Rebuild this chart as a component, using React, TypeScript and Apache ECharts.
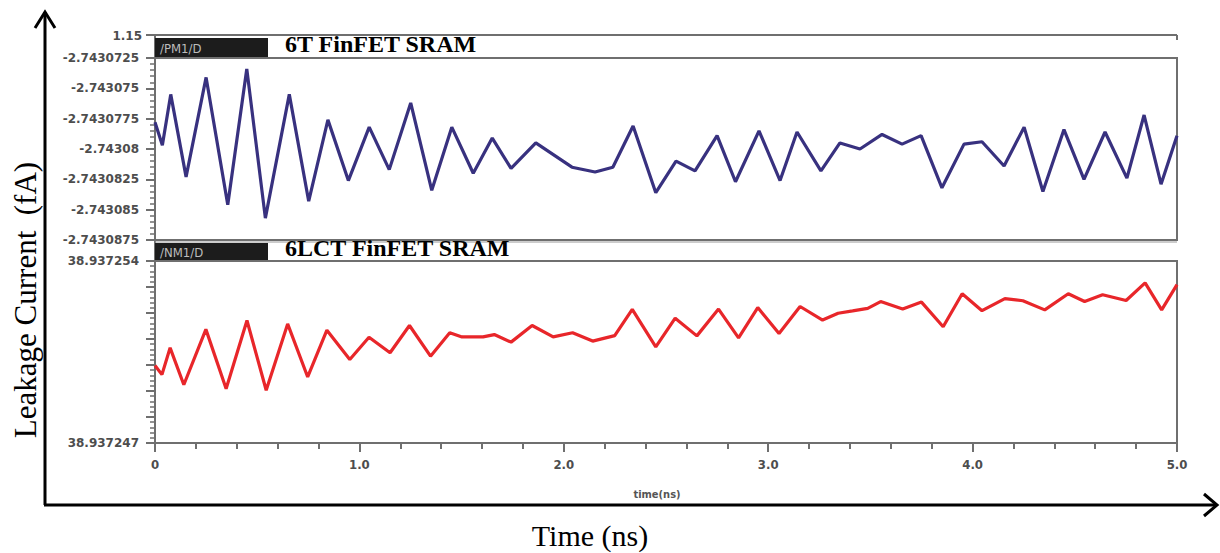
import React, { useEffect, useRef } from "react";
import * as echarts from "echarts";

// 6T FinFET SRAM (/PM1/D) — time (ns) and leakage current (fA)
const timeTop = [
  0, 0.036, 0.077, 0.152, 0.25, 0.356, 0.449, 0.54, 0.657, 0.752, 0.846, 0.946, 1.048,
  1.146, 1.251, 1.354, 1.452, 1.557, 1.65, 1.742, 1.863, 2.04, 2.153, 2.24, 2.339, 2.45,
  2.549, 2.642, 2.75, 2.84, 2.955, 3.058, 3.141, 3.258, 3.351, 3.449, 3.557, 3.655, 3.748,
  3.85, 3.958, 4.046, 4.154, 4.252, 4.344, 4.447, 4.545, 4.648, 4.755, 4.839, 4.922, 5.0,
];
const currentTop = [
  -2.7430778, -2.7430797, -2.7430755, -2.7430823, -2.7430741, -2.7430846, -2.7430734,
  -2.7430857, -2.7430755, -2.7430843, -2.7430776, -2.7430826, -2.7430782, -2.7430817,
  -2.7430762, -2.7430834, -2.7430782, -2.743082, -2.7430791, -2.7430816, -2.7430795,
  -2.7430815, -2.7430819, -2.7430815, -2.7430781, -2.7430836, -2.743081, -2.7430818,
  -2.7430789, -2.7430827, -2.7430785, -2.7430826, -2.7430786, -2.7430818, -2.7430795,
  -2.74308, -2.7430788, -2.7430796, -2.7430789, -2.7430832, -2.7430796, -2.7430794,
  -2.7430814, -2.7430782, -2.7430835, -2.7430784, -2.7430825, -2.7430786, -2.7430824,
  -2.7430772, -2.7430829, -2.7430789,
];

// 6LCT FinFET SRAM (/NM1/D)
const timeBottom = [
  0, 0.034, 0.074, 0.141, 0.249, 0.348, 0.45, 0.544, 0.649, 0.747, 0.841, 0.953, 1.047,
  1.15, 1.245, 1.348, 1.442, 1.502, 1.605, 1.66, 1.742, 1.845, 1.948, 2.043, 2.141, 2.249,
  2.335, 2.45, 2.545, 2.651, 2.757, 2.855, 2.949, 3.053, 3.156, 3.266, 3.342, 3.413, 3.487,
  3.55, 3.658, 3.75, 3.856, 3.949, 4.046, 4.158, 4.246, 4.353, 4.468, 4.548, 4.636, 4.751,
  4.844, 4.925, 5.0,
];
const currentBottom = [
  38.93724998, 38.93724963, 38.93725066, 38.93724924, 38.93725137, 38.93724909, 38.93725171,
  38.93724903, 38.93725158, 38.93724954, 38.93725134, 38.93725021, 38.93725107, 38.93725047,
  38.93725152, 38.93725034, 38.93725124, 38.93725108, 38.93725108, 38.93725117, 38.93725088,
  38.93725152, 38.93725108, 38.93725124, 38.93725092, 38.93725113, 38.93725214, 38.9372507,
  38.9372518, 38.93725112, 38.93725215, 38.93725104, 38.93725221, 38.93725121, 38.93725225,
  38.93725173, 38.93725199, 38.93725208, 38.93725218, 38.93725244, 38.93725215, 38.93725242,
  38.93725147, 38.93725274, 38.93725209, 38.93725255, 38.93725247, 38.93725212, 38.93725274,
  38.93725244, 38.9372527, 38.93725248, 38.93725316, 38.93725212, 38.93725309,
];

const topTickLabels = [
  "-2.7430725", "-2.743075", "-2.7430775", "-2.74308", "-2.7430825", "-2.743085", "-2.7430875",
];
const bottomTickLabels = ["38.937254", "38.937247"];
const xTickLabels = ["0", "1.0", "2.0", "3.0", "4.0", "5.0"];
const headerTopValue = "1.15";
const topTitle = "6T FinFET SRAM";
const bottomTitle = "6LCT FinFET SRAM";
const topTag = "/PM1/D";
const bottomTag = "/NM1/D";

const nearest = (labels: string[], tol: number) => (v: number) => {
  let best = "";
  let bd = Infinity;
  for (const l of labels) {
    const d = Math.abs(Number(l) - v);
    if (d < bd) {
      bd = d;
      best = l;
    }
  }
  return bd < tol ? best : "";
};

const GRID_LEFT = 155;
const GRID_W = 1022;
const FRAME = "#6f6f6f";
const LABEL_FONT = "'DejaVu Sans', sans-serif";
const COND_FONT = "'DejaVu Sans Condensed', 'DejaVu Sans', sans-serif";

export default function App() {
  const ref = useRef<HTMLDivElement>(null);
  useEffect(() => {
    const chart = echarts.init(ref.current!, null, { renderer: "svg" });
    const yLabel = {
      color: "#4d4d4d",
      fontFamily: LABEL_FONT,
      fontWeight: "bold" as const,
      fontSize: 12,
      margin: 16,
    };
    const option: any = {
      animation: false,
      backgroundColor: "#ffffff",
      grid: [
        {
          left: GRID_LEFT,
          top: 58,
          width: GRID_W,
          height: 182,
          show: true,
          borderColor: FRAME,
          borderWidth: 2,
          containLabel: false,
        },
        {
          left: GRID_LEFT,
          top: 261,
          width: GRID_W,
          height: 182,
          show: true,
          borderColor: FRAME,
          borderWidth: 2,
          containLabel: false,
        },
      ],
      xAxis: [
        {
          gridIndex: 0,
          type: "value",
          min: 0,
          max: 5,
          interval: 1,
          axisLine: { show: false },
          axisTick: { show: false },
          axisLabel: { show: false },
          splitLine: { show: false },
        },
        {
          gridIndex: 1,
          type: "value",
          min: 0,
          max: 5,
          interval: 1,
          axisLine: { show: true, lineStyle: { color: FRAME, width: 2 } },
          axisTick: { show: true, inside: false, length: 9, lineStyle: { color: FRAME, width: 2 } },
          minorTick: { show: true, splitNumber: 5, length: 6, lineStyle: { color: FRAME, width: 2 } },
          axisLabel: {
            color: "#4d4d4d",
            fontFamily: COND_FONT,
            fontWeight: "bold",
            fontSize: 13,
            margin: 15,
            formatter: nearest(xTickLabels, 0.01),
          },
          splitLine: { show: false },
        },
      ],
      yAxis: [
        {
          gridIndex: 0,
          type: "value",
          min: -2.7430875,
          max: -2.7430725,
          interval: 2.5e-6,
          axisLine: { show: true, lineStyle: { color: FRAME, width: 2 } },
          axisTick: { show: true, inside: false, length: 9, lineStyle: { color: FRAME, width: 2 } },
          minorTick: { show: true, splitNumber: 5, length: 5, lineStyle: { color: FRAME, width: 1.5 } },
          axisLabel: { ...yLabel, formatter: nearest(topTickLabels, 1e-7) },
          splitLine: { show: false },
        },
        {
          gridIndex: 1,
          type: "value",
          min: 38.937247,
          max: 38.937254,
          interval: 1e-6,
          axisLine: { show: true, lineStyle: { color: FRAME, width: 2 } },
          axisTick: { show: true, inside: false, length: 9, lineStyle: { color: FRAME, width: 2 } },
          minorTick: { show: true, splitNumber: 5, length: 5, lineStyle: { color: FRAME, width: 1.5 } },
          axisLabel: { ...yLabel, formatter: nearest(bottomTickLabels, 1e-7) },
          splitLine: { show: false },
        },
      ],
      series: [
        {
          type: "line",
          xAxisIndex: 0,
          yAxisIndex: 0,
          data: timeTop.map((t, i) => [t, currentTop[i]]),
          showSymbol: false,
          symbol: "none",
          lineStyle: { color: "#38317f", width: 3.2 },
          clip: false,
        },
        {
          type: "line",
          xAxisIndex: 1,
          yAxisIndex: 1,
          data: timeBottom.map((t, i) => [t, currentBottom[i]]),
          showSymbol: false,
          symbol: "none",
          lineStyle: { color: "#e8262a", width: 3.2 },
          clip: false,
        },
      ],
      graphic: [
        // header strip of top panel
        { type: "line", shape: { x1: 146, y1: 35, x2: 1177, y2: 35 }, style: { stroke: FRAME, lineWidth: 2 } },
        { type: "line", shape: { x1: 1177, y1: 35, x2: 1177, y2: 40 }, style: { stroke: FRAME, lineWidth: 2 } },
        { type: "line", shape: { x1: GRID_LEFT, y1: 35, x2: GRID_LEFT, y2: 443 }, style: { stroke: FRAME, lineWidth: 2 } },
        {
          type: "text",
          x: 142,
          y: 36,
          style: {
            text: headerTopValue,
            fill: "#4d4d4d",
            font: `bold 12px ${LABEL_FONT}`,
            textAlign: "right",
            textVerticalAlign: "middle",
          },
        },
        { type: "rect", shape: { x: 155, y: 38, width: 113, height: 19 }, style: { fill: "#1c1c1c" } },
        {
          type: "text",
          x: 160,
          y: 48,
          style: { text: topTag, fill: "#bdbdbd", font: `13px ${COND_FONT}`, textVerticalAlign: "middle" },
        },
        {
          type: "text",
          x: 285,
          y: 56,
          style: {
            text: topTitle,
            fill: "#000",
            font: "bold 24px 'Liberation Serif', 'Times New Roman', serif",
            textVerticalAlign: "bottom",
          },
        },
        // header strip of bottom panel
        { type: "line", shape: { x1: GRID_LEFT, y1: 242, x2: 1177, y2: 242 }, style: { stroke: "#9a9a9a", lineWidth: 1 } },
        { type: "rect", shape: { x: 155, y: 243, width: 113, height: 17 }, style: { fill: "#1c1c1c" } },
        {
          type: "text",
          x: 160,
          y: 252,
          style: { text: bottomTag, fill: "#bdbdbd", font: `13px ${COND_FONT}`, textVerticalAlign: "middle" },
        },
        {
          type: "text",
          x: 285,
          y: 260,
          style: {
            text: bottomTitle,
            fill: "#000",
            font: "bold 24px 'Liberation Serif', 'Times New Roman', serif",
            textVerticalAlign: "bottom",
          },
        },
        {
          type: "text",
          x: 657,
          y: 494,
          style: {
            text: "time(ns)",
            fill: "#555",
            font: `bold 11px ${COND_FONT}`,
            textAlign: "center",
            textVerticalAlign: "middle",
          },
        },
        // outer arrows
        { type: "polyline", shape: { points: [[45, 505], [45, 12]] }, style: { stroke: "#000", lineWidth: 3, fill: "none" } },
        { type: "polyline", shape: { points: [[35, 28], [45, 12], [55, 28]] }, style: { stroke: "#000", lineWidth: 3, fill: "none" } },
        { type: "polyline", shape: { points: [[44, 505], [1216, 505]] }, style: { stroke: "#000", lineWidth: 3, fill: "none" } },
        { type: "polyline", shape: { points: [[1204, 494], [1217, 505], [1204, 516]] }, style: { stroke: "#000", lineWidth: 3, fill: "none" } },
        {
          type: "text",
          x: 590,
          y: 535,
          style: {
            text: "Time (ns)",
            fill: "#000",
            font: "30px 'Liberation Serif', 'Times New Roman', serif",
            textAlign: "center",
            textVerticalAlign: "middle",
          },
        },
        {
          type: "text",
          x: 25,
          y: 300,
          rotation: Math.PI / 2,
          style: {
            text: "Leakage Current  (fA)",
            fill: "#000",
            font: "31px 'Liberation Serif', 'Times New Roman', serif",
            textAlign: "center",
            textVerticalAlign: "middle",
          },
        },
      ],
    };
    chart.setOption(option);
    return () => chart.dispose();
  }, []);
  return (
    <div
      ref={ref}
      style={{ position: "fixed", left: 0, top: 0, width: 1220, height: 553, background: "#fff" }}
    />
  );
}
